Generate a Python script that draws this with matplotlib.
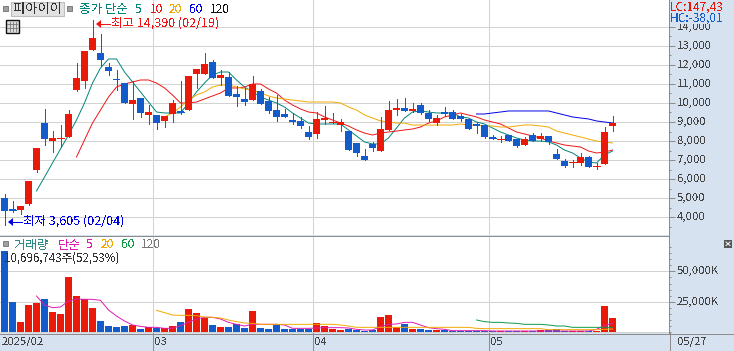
import matplotlib
matplotlib.use("Agg")
import numpy as np
import matplotlib.pyplot as plt
from matplotlib.patches import Rectangle, Polygon
from matplotlib.transforms import ScaledTranslation

plt.rcParams['font.family'] = ['Noto Sans CJK KR', 'DejaVu Sans']
plt.rcParams['text.antialiased'] = False

# price candles
opens = [5020,4400,4370,4690,6475,8950,8000,8130,8210,10685,11155,12790,12630,11895,11260,11050,9945,10260,9370,9370,
         9055,9420,9580,9630,11525,11525,12155,11315,11365,10475,10210,10155,10630,10105,9630,9420,9105,9050,8475,8370,
         9105,8970,8840,8525,7895,7210,7845,7475,8580,9630,9735,9580,9895,9475,8945,9525,9525,9315,9160,8895,
         8840,8210,8080,8315,8105,7790,8315,8105,8265,7315,6950,6870,6840,7160,6660,6790,8790]
closes = [4320,4370,4580,5900,7630,8105,8160,8160,9420,11315,12735,13420,12260,11685,11200,10000,10155,9475,9525,8945,
          9315,10000,9525,11420,11790,12050,11315,11470,10370,10315,10050,11000,9945,9580,9265,9265,9000,8790,8210,9160,
          9210,9000,9000,7525,7370,7000,7630,8630,9630,9735,9580,9685,9475,9160,9210,9420,9160,9160,8630,8790,
          8210,8180,8105,8000,7735,8105,8000,8265,7950,7055,6685,6895,7160,6630,6685,8475,8945]
highs = [5210,4845,4580,5900,7630,9685,8525,8840,9630,12105,12735,14390,13630,12100,11735,11050,11155,10260,9895,9370,
         9315,10155,11155,11420,11790,12630,12260,11735,11630,10895,10790,11420,10735,10315,10420,9685,9475,9265,8790,9525,
         9840,9475,9160,8525,7895,7580,7950,9265,10105,10210,10260,10000,10000,9630,9370,9790,9630,9420,9160,9000,
         8840,8315,8265,8315,8105,8210,8420,8420,8265,7580,7055,7000,7370,7210,6840,8735,9315]
lows = [3605,4280,4160,4630,6385,7805,7440,7700,8210,10650,10790,12790,11945,11475,10685,10000,9160,9265,8895,8630,
        8735,9000,9420,9630,10790,11525,11315,10945,10370,9840,9895,10155,9945,9475,9050,9265,8895,8685,8105,8160,
        8895,8950,8525,7525,7210,7000,7475,7475,8580,9370,9580,9525,9420,9050,8840,9315,9160,9050,8630,8420,
        8160,8105,7950,8000,7685,7790,8000,8000,7845,7055,6630,6630,6735,6630,6525,6790,8525]

# price moving averages, first index of each is in the *_start value
ma5_start = 4
ma5 = [5370,6105,6845,7580,8315,9105,10000,11050,11840,12315,12315,11630,11105,10580,10050,9525,9475,9475,9475,10000,
       10580,11050,11470,11630,11630,11210,10840,10580,10315,10155,10000,9790,9475,9210,8945,8895,8895,8895,8895,8580,
       8265,7950,7845,7845,8160,8685,9210,9525,9580,9525,9475,9475,9475,9265,9210,9000,8895,8685,8475,8315,
       8160,8055,8000,8000,7950,7790,7525,7370,7105,6895,6845,7265,7475]
ma10_start = 9
ma10 = [7160,8055,8945,9630,10315,10840,11000,11105,11210,11210,11050,10790,10420,10000,10000,10050,10210,10370,10525,10790,
        10790,10840,11000,11000,10735,10525,10155,9895,9685,9525,9475,9265,9105,8945,8790,8580,8420,8315,8420,8475,
        8525,8580,8630,8735,8945,9055,9265,9370,9475,9370,9265,9105,9000,8895,8685,8475,8370,8265,8160,8000,
        7895,7790,7735,7685,7475,7370,7420,7525]
ma20_start = 20
ma20 = [9265,9475,9790,10155,10420,10580,10840,10945,10945,10840,10735,10685,10525,10370,10260,10210,10155,10105,10050,10050,
        10050,10050,10000,9790,9630,9370,9210,9055,9000,8945,8945,8840,8840,8840,8840,8840,8840,8895,8840,8840,
        8790,8790,8735,8735,8790,8840,8840,8790,8735,8525,8420,8315,8210,8105,8000,7950,7895]
ma60_start = 59
ma60 = [9420,9420,9475,9525,9580,9580,9580,9580,9580,9580,9475,9370,9265,9210,9160,9055,9000,8945]

# volume in thousands
volume = [66800,24750,8250,22275,23925,27225,16500,14850,45375,29700,27225,19800,9075,4950,4125,4950,5775,2475,4125,3300,
          3300,4950,8250,18975,15675,11550,5775,4125,4125,6600,3300,17325,3300,2475,5775,2475,2475,2475,2475,7425,
          4950,2475,1650,2475,1650,825,1650,12375,14025,4125,6600,2475,2475,1650,1650,1650,825,825,825,825,
          825,825,825,825,825,825,825,1650,1650,2475,825,825,825,825,825,21450,11550]
vol5_start = 4
vol5 = [29700,22275,20075,20625,25575,27225,26950,26950,26125,18150,13200,9075,5775,4675,3850,3850,3025,3025,5225,7975,
        10725,12100,12100,10725,7975,6325,4950,6325,6325,6325,6325,5775,3025,3025,3025,3300,3575,3575,3575,3300,
        2200,1650,1650,4400,6325,6600,7975,7975,5775,3575,2750,2200,1100,1100,1100,1100,1100,825,825,825,
        825,825,825,825,825,825,825,825,825,825,2200,5225,7150]
vol20_start = 19
vol20 = [17875,15950,14025,13750,13750,13475,12375,12100,11550,9900,8525,7425,7150,6325,6325,6325,6325,6325,6325,6325,
         6325,6325,6325,5775,4950,3850,3850,3850,3850,3850,3850,3850,3850,3850,3850,3850,3850,3850,3850,3850,
         3025,2750,2750,2750,2750,2750,2750,2750,2750,1925,1925,1925,1925,1925,1925,1925,2200,2475]
vol60_start = 59
vol60 = [9900,8525,7975,7975,7425,7150,6325,6325,6325,5775,4950,4950,3850,3850,3850,3850,3850,3850]

price_ticks = [4000,5000,6000,7000,8000,9000,10000,11000,12000,13000,14000]
price_labels = ['4,000','5,000','6,000','7,000','8,000','9,000','10,000','11,000','12,000','13,000','14,000']
vol_ticks = [25000,50000]
vol_labels = ['25,000K','50,000K']
month_breaks = [18.5,38.5,60.5]

W, H = 734, 351
PANEL = '#D6E2F0'
GRID = '#D2D2D2'
EDGE = '#8C8C8C'
RED = '#EA1A0A'
BLUE = '#135BCB'
TEXT = '#444444'
PX = 0.72

fig = plt.figure(figsize=(W/100, H/100), dpi=100, facecolor=PANEL)

def make_ax(top, bottom):
    return fig.add_axes([0, 1-bottom/H, 669/W, (bottom-top)/H], facecolor='white')

ax = make_ax(0, 235)
vx = make_ax(236, 333)
xs = np.arange(len(closes))
xlim = (-4.5/8, 664.5/8)

for a in (ax, vx):
    a.set_xlim(*xlim)
    a.set_xticks([])
    a.yaxis.tick_right()
    for s in ('top', 'left', 'bottom'):
        a.spines[s].set_visible(False)
    a.spines['right'].set_color(EDGE)
    a.spines['right'].set_linewidth(PX)
    a.tick_params(axis='y', which='major', length=4.3, width=PX, color=EDGE, labelcolor=TEXT, labelsize=8.2, pad=1.5)
    a.tick_params(axis='y', which='minor', length=1.6, width=PX, color=EDGE)
    for m in month_breaks:
        a.axvline(m, color=GRID, lw=PX, zorder=1, antialiased=False)

# price pane
ax.set_ylim(3056, 15417)
ax.set_yticks(price_ticks)
ax.set_yticklabels(price_labels)
ax.set_yticks(np.arange(3500, 15000, 1000), minor=True)
for t in price_ticks:
    ax.axhline(t, color=GRID, lw=PX, zorder=1, antialiased=False)

def draw_line(a, start, vals, color, z=2):
    a.plot(np.arange(len(vals))+start, vals, color=color, lw=0.7, zorder=z, antialiased=True)

draw_line(ax, ma5_start, ma5, '#00857A')
draw_line(ax, ma10_start, ma10, '#F01414')
draw_line(ax, ma20_start, ma20, '#F2A900')
draw_line(ax, ma60_start, ma60, '#0000E6')

o = np.array(opens)
c = np.array(closes)
colors = [RED if c[i] >= o[i] else BLUE for i in xs]
ax.vlines(xs, lows, highs, colors=colors, lw=PX, zorder=3, antialiased=False)
ax.bar(xs, np.abs(c-o), bottom=np.minimum(o, c), width=7/8, color=colors, zorder=4, antialiased=False)
thin = np.abs(c-o) < 60
ax.hlines(c[thin], xs[thin]-3.5/8, xs[thin]+3.5/8, colors=np.array(colors)[thin], lw=PX, zorder=4, antialiased=False)

# volume pane
vx.set_ylim(-825, 79200)
vx.set_yticks(vol_ticks)
vx.set_yticklabels(vol_labels)
vx.set_yticks(np.arange(0, 75000, 5000), minor=True)
for t in [0]+vol_ticks:
    vx.axhline(t, color=GRID, lw=PX, zorder=1, antialiased=False)
vx.bar(xs, volume, width=7/8, color=colors, zorder=2, antialiased=False)
draw_line(vx, vol5_start, vol5, '#E01AB4', 3)
draw_line(vx, vol20_start, vol20, '#F2A900', 3)
draw_line(vx, vol60_start, vol60, '#0E9A46', 3)

# tick labels sit a pixel above their ticks in the reference
up = ScaledTranslation(0, 1/100, fig.dpi_scale_trans)
for a in (ax, vx):
    for lab in a.get_yticklabels():
        lab.set_transform(lab.get_transform()+up)

# chrome in pixel coordinates
ov = fig.add_axes([0, 0, 1, 1], facecolor='none')
ov.set_xlim(0, W)
ov.set_ylim(H, 0)
ov.axis('off')

def label(x, y, s, color=TEXT, size=8.2, **kw):
    ov.text(x, y, s, color=color, fontsize=size, va='center', ha='left', **kw)

def small_box(x, y):
    ov.add_patch(Rectangle((x, y), 4.5, 4.5, fc='#A0A0A0', ec='#707070', lw=0.6))

ov.add_patch(Rectangle((670, 0), 64, 24, fc=PANEL, ec='none'))
ov.plot([0, 669], [235.5, 235.5], color=EDGE, lw=PX)
ov.plot([0, 734], [333.5, 333.5], color=EDGE, lw=PX)
for m in month_breaks:
    px = 4.5 + 8*m
    ov.plot([px, px], [333, 351], color=EDGE, lw=PX)
ov.plot([669.5, 669.5], [333, 351], color=EDGE, lw=PX)

small_box(3, 6)
ov.add_patch(Rectangle((10.5, 1.5), 53, 14, fc='#E2E2E2', ec='#BDBDBD', lw=0.8))
label(13, 9, '피아이이', color='#333333', size=9.6)
small_box(67, 6)
label(79, 9.5, '종가 단순', color='#00857A', size=9)
label(135, 9.5, '5', color='#00857A', size=8.6)
label(150, 9.5, '10', color='#F01414', size=8.6)
label(169, 9.5, '20', color='#F2A900', size=8.6)
label(189, 9.5, '60', color='#0000E6', size=8.6)
label(210, 9.5, '120', color='#111111', size=8.6)

# table icon
ov.add_patch(Rectangle((5.5, 19.5), 13, 13, fc='#DDDDDD', ec='#111111', lw=1))
for gx in (9.5, 12.5, 15.5):
    ov.plot([gx, gx], [22, 31], color='#777777', lw=0.6)
for gy in (23.5, 27.5):
    ov.plot([7, 17], [gy, gy], color='#777777', lw=0.6)

# high and low markers
ov.add_patch(Polygon([(96, 24), (101, 20), (101, 28)], fc='#F01414', ec='none'))
ov.plot([100, 110], [24, 24], color='#F01414', lw=PX)
label(111, 23.5, '최고 14,390 (02/19)', color='#F01414', size=9)
ov.add_patch(Polygon([(8, 222), (13, 218), (13, 226)], fc='#0000E6', ec='none'))
ov.plot([12, 22], [222, 222], color='#0000E6', lw=PX)
label(23, 221.5, '최저 3,605 (02/04)', color='#0000E6', size=9)

label(670, 7, 'LC:147,43', color='#EA1A0A', size=8.6)
label(670, 18.5, 'HC:-38,01', color='#135BCB', size=8.6)

small_box(3, 241)
label(14, 245, '거래량', color='#2E8C84', size=9)
label(58, 245, '단순', color='#E01AB4', size=9)
label(86, 245, '5', color='#E01AB4', size=8.6)
label(101, 245, '20', color='#F2A900', size=8.6)
label(121, 245, '60', color='#0E9A46', size=8.6)
label(141, 245, '120', color='#777777', size=8.6)
label(4, 258, '10,696,743주(52,53%)', color='#333333', size=8.3)

ov.add_patch(Rectangle((724, 240), 8, 7.5, fc='#555555', ec='none'))
ov.plot([726, 730], [242, 245.5], color='white', lw=0.7)
ov.plot([726, 730], [245.5, 242], color='white', lw=0.7)

label(2, 342, '2025/02', size=8.2)
label(154, 342, '03', size=8.2)
label(314, 342, '04', size=8.2)
label(490, 342, '05', size=8.2)
label(677, 342, '05/27', size=8.2)

fig.savefig('out.png', dpi=100, facecolor=fig.get_facecolor())
